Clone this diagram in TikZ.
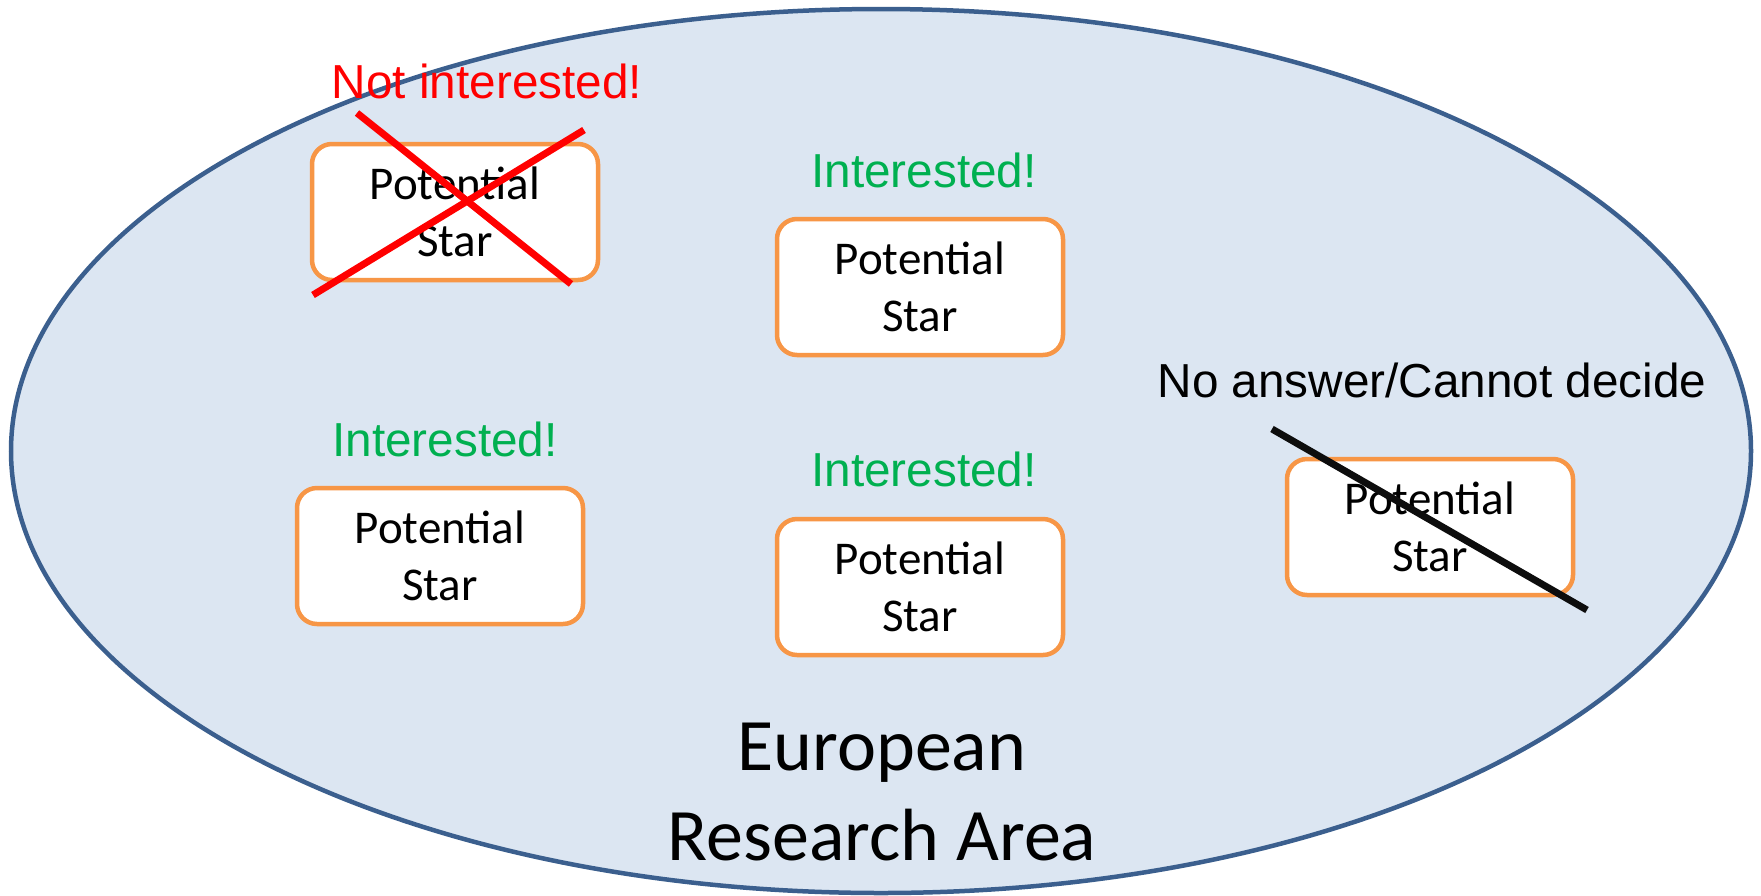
\documentclass[tikz,border=0pt]{standalone}
\usepackage{fontspec}
\usetikzlibrary{shapes.geometric}
\setmainfont{Liberation Sans}
\newfontfamily\carlito{Carlito}
\definecolor{erafill}{HTML}{DCE6F2}
\definecolor{eraline}{HTML}{3B5F8E}
\definecolor{starline}{HTML}{F79646}
\definecolor{intgreen}{HTML}{00B050}
\definecolor{notred}{HTML}{FF0000}
\tikzset{
  starbox/.style={draw=starline, line width=4.5pt, fill=white, rounded corners=20pt,
    minimum width=286pt, minimum height=136pt, inner sep=0pt, align=center,
    font=\carlito\fontsize{47}{57}\selectfont},
  lbl/.style={inner sep=0pt, font=\fontsize{47.7}{56}\selectfont},
  crossline/.style={line width=7pt}
}
\begin{document}
\begin{tikzpicture}[x=1pt,y=-1pt]
\useasboundingbox (0,0) rectangle (1761,895);
\node[draw=eraline, line width=4.5pt, fill=erafill, ellipse, minimum width=1740pt, minimum height=884pt, inner sep=0pt] (era) at (881,451) {};
\node[inner sep=0pt, align=center, font=\carlito\fontsize{74}{90}\selectfont] (eratext) at (882,792) {European\\Research Area};

\node[starbox] (s1) at (455,212) {Potential\\Star};
\node[starbox] (s2) at (920,287) {Potential\\Star};
\node[starbox] (s3) at (440,556) {Potential\\Star};
\node[starbox] (s4) at (920,587) {Potential\\Star};
\node[starbox] (s5) at (1430,527) {Potential\\Star};

\node[lbl, text=notred] (l1) at (487,81) {Not interested!};
\node[lbl, text=intgreen] (l2) at (924,170) {Interested!};
\node[lbl, text=intgreen] (l3) at (445,439) {Interested!};
\node[lbl, text=intgreen] (l4) at (924,469) {Interested!};
\node[lbl] (l5) at (1432,380) {No answer/Cannot decide};

\coordinate (x1a) at (357,113);
\coordinate (x1b) at (571,284);
\coordinate (x2a) at (584,130);
\coordinate (x2b) at (313,295);
\coordinate (x3a) at (1272,429);
\coordinate (x3b) at (1587,610);
\draw[crossline, notred] (x1a) -- (x1b);
\draw[crossline, notred] (x2a) -- (x2b);
\draw[crossline, black!95] (x3a) -- (x3b);
\end{tikzpicture}
\end{document}
